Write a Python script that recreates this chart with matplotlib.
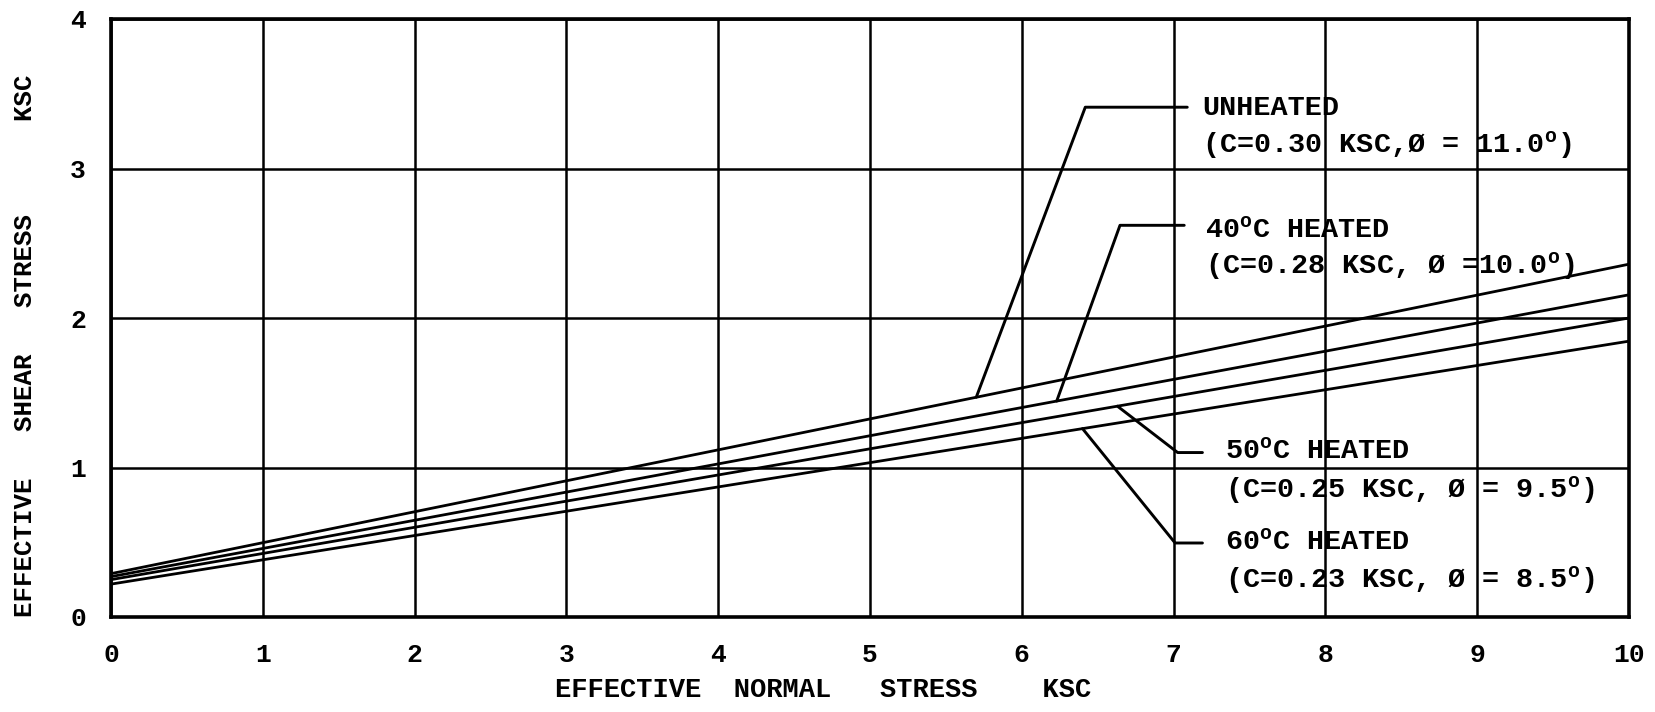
import numpy as np
from matplotlib import pyplot as plt

plt.rcParams['font.family'] = ['Liberation Mono', 'DejaVu Sans Mono']
plt.rcParams['mathtext.default'] = 'regular'

# effective normal stress (ksc) at the two ends of each envelope
sigma = [0, 10]
tau_unheated = [0.29, 2.36]
tau_40 = [0.27, 2.155]
tau_50 = [0.25, 2.00]
tau_60 = [0.22, 1.845]

names = ['UNHEATED', '40$^{o}$C HEATED', '50$^{o}$C HEATED', '60$^{o}$C HEATED']
params = ['(C=0.30 KSC,\u00d8 = 11.0$^{o}$)',
          '(C=0.28 KSC, \u00d8 =10.0$^{o}$)',
          '(C=0.25 KSC, \u00d8 = 9.5$^{o}$)',
          '(C=0.23 KSC, \u00d8 = 8.5$^{o}$)']

x_ticks = list(range(0, 11))
y_ticks = [0, 1, 2, 3, 4]

fig = plt.figure(figsize=(16.55, 7.12), dpi=100)
ax = fig.add_axes([111/1655, 1 - 617/712, (1629 - 111)/1655, (617 - 19)/712])

series = [tau_unheated, tau_40, tau_50, tau_60]
for tau in series:
    ax.plot(sigma, tau, color='black', lw=2.0, solid_capstyle='butt')

ax.set_xlim(0, 10)
ax.set_ylim(0, 4)
ax.set_xticks(x_ticks)
ax.set_yticks(y_ticks)
ax.grid(True, color='black', lw=1.8)
for s in ax.spines.values():
    s.set_linewidth(2.6)
ax.tick_params(length=0, labelsize=19)
ax.tick_params(axis='x', pad=19)
ax.tick_params(axis='y', pad=18)
for lab in ax.get_xticklabels() + ax.get_yticklabels():
    lab.set_fontweight('bold')

# callouts: point on the line, end of leader, leader angle, text position
anchor_x = [5.70, 6.23, 6.63, 6.40]
leader_end = [(7.09, 3.41), (7.07, 2.62), (7.19, 1.10), (7.19, 0.495)]
leader_ang = [69.4, 70.2, -37.6, -51.0]
text_x = [7.19, 7.21, 7.34, 7.34]
text_y1 = [3.36, 2.54, 1.06, 0.45]
text_y2 = [3.11, 2.30, 0.80, 0.20]

for i, tau in enumerate(series):
    xa = anchor_x[i]
    ya = np.interp(xa, sigma, tau)
    ax.annotate('', xy=(xa, ya), xytext=leader_end[i],
                arrowprops=dict(arrowstyle='-', lw=2.1, color='black',
                                shrinkA=0, shrinkB=0,
                                connectionstyle='angle,angleA=0,angleB=%g,rad=0' % leader_ang[i]))
    ax.text(text_x[i], text_y1[i], names[i], fontsize=20.5, fontweight='bold',
            ha='left', va='baseline')
    ax.text(text_x[i], text_y2[i], params[i], fontsize=20.5, fontweight='bold',
            ha='left', va='baseline')

fig.text(823/1655, 1 - 690/712, 'EFFECTIVE  NORMAL   STRESS    KSC',
         fontsize=19.5, fontweight='bold', ha='center', va='center')
fig.text(25/1655, 1 - 346/712, 'EFFECTIVE   SHEAR   STRESS      KSC',
         fontsize=18.5, fontweight='bold', ha='center', va='center', rotation=90)

fig.savefig('out.png', dpi=100)
